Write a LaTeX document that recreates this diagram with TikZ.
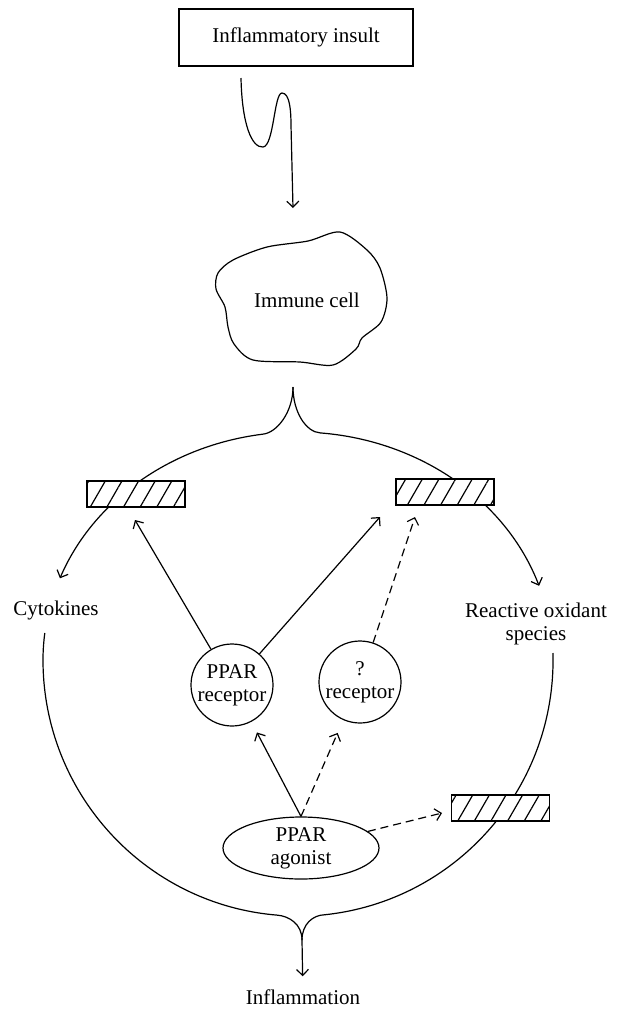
\documentclass[tikz,border=0pt]{standalone}
\usepackage{fontspec}
\setmainfont{Liberation Serif}
\usetikzlibrary{shapes,arrows.meta,positioning,patterns.meta}

\begin{document}
\begin{tikzpicture}[
    x=0.5pt, y=-0.5pt,
    font=\fontsize{10.5}{11.5}\selectfont,
    line width=0.6pt,
    tip/.style={-{Straight Barb[length=3pt,width=6pt]}},
    dsh/.style={dash pattern=on 4pt off 2.5pt},
    hatch/.style={rectangle, draw, minimum width=49pt, minimum height=13pt, inner sep=0pt, preaction={fill=white}, pattern={Lines[angle=60,distance=7.2pt,line width=0.6pt]}},
    recept/.style={circle, draw, minimum size=41pt, inner sep=0pt, align=center},
    agonist/.style={ellipse, draw, minimum width=78pt, minimum height=31pt, inner sep=0pt, align=center}
]
\useasboundingbox (0,0) rectangle (617,1009);

% insult and cell
\node[draw, minimum width=117pt, minimum height=28.5pt] (insult) at (296,37.5) {Inflammatory insult};
\coordinate (sqtop) at (241,78);
\coordinate (sqend) at (293,208);
\draw[tip] (sqtop) .. controls (242,125) and (252,148) .. (263,147)
    .. controls (274,146) and (274,93) .. (282,93)
    .. controls (290,93) and (291,112) .. (291,125) -- (sqend);
\draw plot[smooth cycle] coordinates {(308,241) (340,232) (367,250) (380,268) (387,298) (381,322) (362,338) (356,349) (333,365) (300,362) (253,360) (234,344) (228,327) (225,307) (216,289) (218,273) (233,260) (267,247)};
\node (cell) at (307,300) {Immune cell};

% the big loop
\coordinate (cusptop) at (293,387);
\coordinate (cuspbot) at (302,940);
\draw[tip] (cusptop) .. controls (293,412) and (277,433) .. (262.5,434.2)
    arc[start angle=262, end angle=201, x radius=255, y radius=228];
\draw[tip] (cusptop) .. controls (293,412) and (306,432) .. (320.2,432.9)
    arc[start angle=275, end angle=341, x radius=255, y radius=228];
\draw (44.8,633) arc[start angle=186.8, end angle=180, x radius=255, y radius=228]
    arc[start angle=180, end angle=94.7, x radius=255, y radius=256]
    .. controls (289,916) and (302,924) .. (cuspbot);
\draw (552.9,653) arc[start angle=358.2, end angle=360, x radius=255, y radius=228]
    arc[start angle=0, end angle=84, x radius=255, y radius=256]
    .. controls (313,915) and (302,924) .. (cuspbot);

\node[hatch] (lbox) at (136,494) {};
\node[hatch] (rbox) at (445,492) {};
\node[hatch] (bbox) at (500.5,808) {};

\node (cyto) at (56,610) {Cytokines};
\node[align=center] (ros) at (536,624) {Reactive oxidant\\species};
\node (infl) at (303,997) {Inflammation};
\draw[tip, shorten >=3pt] (cuspbot) -- (infl);

% receptors and agonist
\node[recept] (pparrec) at (232,685) {PPAR\\receptor};
\node[recept] (unkrec) at (360,682) {?\\receptor};
\node[agonist] (agon) at (301,848) {PPAR\\agonist};

\coordinate (ltip) at (135,520);
\coordinate (rtip) at (380,517);
\coordinate (qtip) at (415,517);
\coordinate (btip) at (442,813);
\draw[tip] (pparrec) -- (ltip);
\draw[tip] (pparrec) -- (rtip);
\draw[tip, dsh] (unkrec) -- (qtip);
\draw[tip, shorten >=6pt] (agon.north) -- (pparrec);
\draw[tip, dsh, shorten >=7pt] (agon.north) -- (unkrec);
\draw[tip, dsh] (agon) -- (btip);
\end{tikzpicture}
\end{document}
